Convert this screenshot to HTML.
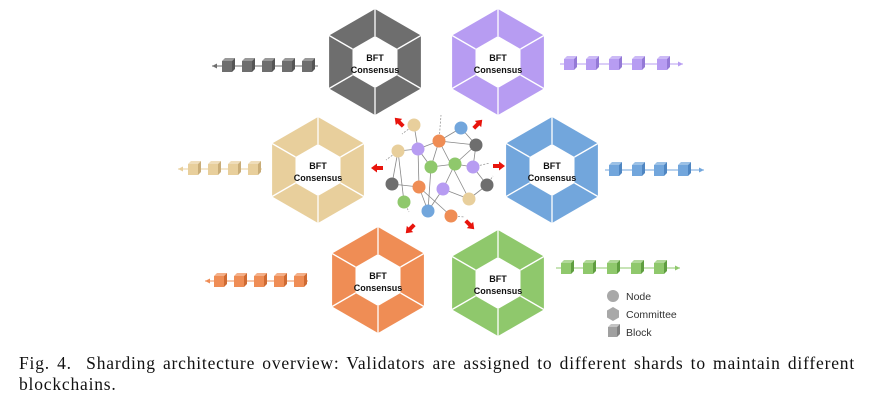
<!DOCTYPE html>
<html><head><meta charset="utf-8"><style>
body{margin:0;background:#fff;width:896px;height:413px;overflow:hidden}
.cap{position:absolute;left:19px;top:353px;width:836px;font:17.5px "Liberation Serif",serif;letter-spacing:0.8px;color:#111;line-height:21px}
.l1{text-align:justify;text-align-last:justify}
svg{position:absolute;left:0;top:0}
.h{font:bold 9px "Liberation Sans",sans-serif;fill:#111;text-anchor:middle}
.lg{font:10.5px "Liberation Sans",sans-serif;fill:#333}
</style></head><body>
<svg id="s" width="896" height="413" xmlns="http://www.w3.org/2000/svg">
<g id="g"></g>
<text class="h" x="375" y="61">BFT</text><text class="h" x="375" y="73">Consensus</text>
<text class="h" x="498" y="61">BFT</text><text class="h" x="498" y="73">Consensus</text>
<text class="h" x="318" y="169">BFT</text><text class="h" x="318" y="181">Consensus</text>
<text class="h" x="552" y="169">BFT</text><text class="h" x="552" y="181">Consensus</text>
<text class="h" x="378" y="279">BFT</text><text class="h" x="378" y="291">Consensus</text>
<text class="h" x="498" y="282">BFT</text><text class="h" x="498" y="294">Consensus</text>
<circle cx="613" cy="296" r="6" fill="#a8a8a8"/>
<polygon points="613,307 619,310.5 619,317.5 613,321 607,317.5 607,310.5" fill="#a8a8a8"/>
<rect x="608" y="327" width="9" height="10" fill="#a0a0a0"/><polygon points="608,327 611,324 620,324 617,327" fill="#c4c4c4"/><polygon points="617,327 620,324 620,334 617,337" fill="#808080"/>
<text class="lg" x="626" y="300">Node</text>
<text class="lg" x="626" y="318">Committee</text>
<text class="lg" x="626" y="336">Block</text>
</svg>
<div class="cap"><div class="l1">Fig. 4.&nbsp; Sharding architecture overview: Validators are assigned to different shards to maintain different</div><div>blockchains.</div></div>
<script>
const g=document.getElementById('g');let h='';
const C={gray:['#6e6e6e','#555'],pur:['#b79cf2','#9479d6'],tan:['#e8cf9c','#c9ad78'],blue:['#72a6dc','#4f86c2'],ora:['#ef8d55','#cf6a32'],grn:['#8fc86c','#5f9e40']};
function P(cx,cy,r){let a=[];for(let i=0;i<6;i++){let t=(-90+60*i)*Math.PI/180;a.push([cx+r*Math.cos(t),cy+r*Math.sin(t)]);}return a;}
function hex(cx,cy,c){let o=P(cx,cy,53),n=P(cx,cy,26);
h+=`<polygon points="${o.map(p=>p.join(',')).join(' ')}" fill="${C[c][0]}"/>`;
for(let i=0;i<6;i++)h+=`<line x1="${o[i][0]}" y1="${o[i][1]}" x2="${n[i][0]}" y2="${n[i][1]}" stroke="#fff" stroke-width="1.3"/>`;
h+=`<polygon points="${n.map(p=>p.join(',')).join(' ')}" fill="#fff"/>`;}
hex(375,62,'gray');hex(498,62,'pur');hex(318,170,'tan');hex(552,170,'blue');hex(378,280,'ora');hex(498,283,'grn');
function chain(xs,y,c,x0,x1,dir){h+=`<line x1="${x0}" y1="${y}" x2="${x1}" y2="${y}" stroke="${C[c][0]}" stroke-width="1"/>`;
let ax=dir<0?x0:x1;h+=`<polygon points="${ax},${y} ${ax-dir*5},${y-2.5} ${ax-dir*5},${y+2.5}" fill="${C[c][0]}"/>`;
xs.forEach(x=>{h+=`<rect x="${x}" y="${y-5}" width="10" height="11" fill="${C[c][0]}"/><polygon points="${x},${y-5} ${x+3},${y-8} ${x+13},${y-8} ${x+10},${y-5}" fill="${C[c][0]}" opacity=".7"/><polygon points="${x+10},${y-5} ${x+13},${y-8} ${x+13},${y+3} ${x+10},${y+6}" fill="${C[c][1]}"/>`;});}
chain([222,242,262,282,302],66,'gray',212,318,-1);
chain([564,586,609,632,657],64,'pur',560,683,1);
chain([188,208,228,248],169,'tan',178,262,-1);
chain([609,632,654,678],170,'blue',605,704,1);
chain([214,234,254,274,294],281,'ora',205,308,-1);
chain([561,583,607,631,654],268,'grn',556,680,1);
const N=[[414,125,'tan'],[461,128,'blue'],[439,141,'ora'],[476,145,'gray'],[398,151,'tan'],[418,149,'pur'],[431,167,'grn'],[455,164,'grn'],[473,167,'pur'],[392,184,'gray'],[419,187,'ora'],[443,189,'pur'],[487,185,'gray'],[404,202,'grn'],[469,199,'tan'],[428,211,'blue'],[451,216,'ora']];
const E=[[0,5],[2,1],[2,3],[1,3],[2,5],[2,6],[2,14],[3,8],[4,5],[4,9],[5,6],[5,10],[7,3],[7,8],[7,11],[6,7],[9,10],[10,15],[10,16],[11,14],[11,15],[12,14],[6,15],[4,13],[8,12]];
E.forEach(([a,b])=>h+=`<line x1="${N[a][0]}" y1="${N[a][1]}" x2="${N[b][0]}" y2="${N[b][1]}" stroke="#888" stroke-width=".8"/>`);
[[414,125,402,134],[398,151,386,160],[473,167,490,163],[451,216,465,217],[487,185,493,176],[404,202,409,212],[439,141,441,115]].forEach(l=>h+=`<line x1="${l[0]}" y1="${l[1]}" x2="${l[2]}" y2="${l[3]}" stroke="#999" stroke-width=".8" stroke-dasharray="2,1.5"/>`);
N.forEach(n=>h+=`<circle cx="${n[0]}" cy="${n[1]}" r="6.5" fill="${C[n[2]][0]}"/>`);
function arr(x,y,ang){h+=`<g transform="translate(${x},${y}) rotate(${ang})"><rect x="-6" y="-2" width="7" height="4" fill="#e8140c"/><polygon points="0,-4.5 6,0 0,4.5" fill="#e8140c"/></g>`;}
arr(399,122,-135);arr(478,124,-45);arr(377,168,180);arr(499,166,0);arr(410,229,135);arr(470,225,45);
g.innerHTML=h;
</script>
</body></html>
